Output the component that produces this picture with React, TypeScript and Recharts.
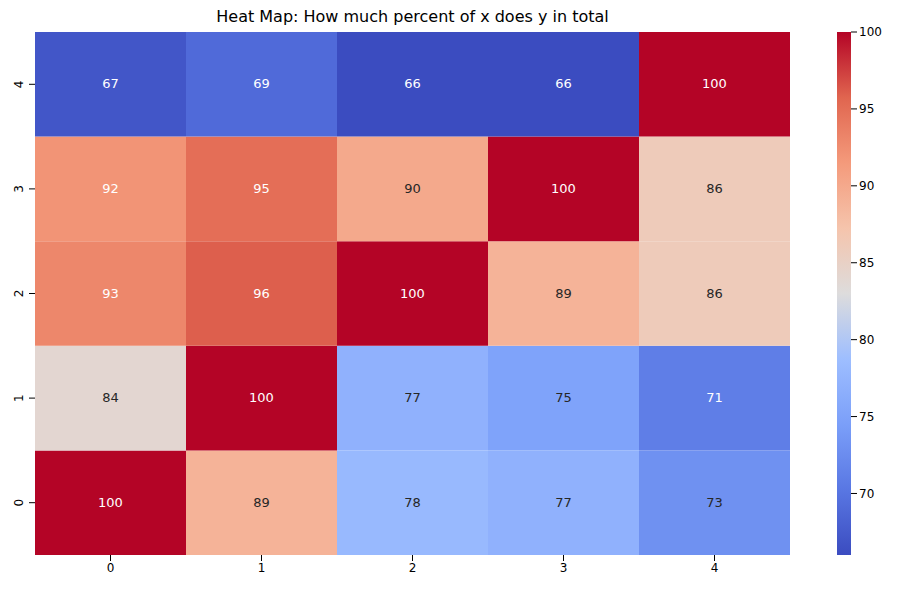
import React from 'react';
import { BarChart, Bar, XAxis, YAxis, Cell, LabelList } from 'recharts';

const xCats = ['0', '1', '2', '3', '4'];
const yCats = ['0', '1', '2', '3', '4'];
// values[row y][col x]
const row0 = [100, 89, 78, 77, 73];
const row1 = [84, 100, 77, 75, 71];
const row2 = [93, 96, 100, 89, 86];
const row3 = [92, 95, 90, 100, 86];
const row4 = [67, 69, 66, 66, 100];
const rows = [row0, row1, row2, row3, row4];
const vmin = 66;
const vmax = 100;
const cbTicks = [70, 75, 80, 85, 90, 95, 100];

const stops: [number, number[]][] = [
  [0, [59, 76, 192]],
  [0.125, [89, 119, 227]],
  [0.25, [123, 159, 249]],
  [0.375, [158, 190, 255]],
  [0.5, [221, 220, 220]],
  [0.625, [245, 196, 172]],
  [0.75, [244, 154, 123]],
  [0.875, [224, 101, 79]],
  [1, [180, 4, 38]],
];

function coolwarm(t: number) {
  t = Math.max(0, Math.min(1, t));
  for (let i = 1; i < stops.length; i++) {
    if (t <= stops[i][0]) {
      const [t0, c0] = stops[i - 1];
      const [t1, c1] = stops[i];
      const f = (t - t0) / (t1 - t0);
      const c = c0.map((v, k) => Math.round(v + (c1[k] - v) * f));
      return `rgb(${c[0]},${c[1]},${c[2]})`;
    }
  }
  return 'rgb(180,4,38)';
}

const colorOf = (v: number) => coolwarm((v - vmin) / (vmax - vmin));
const textOf = (v: number) => {
  const t = (v - vmin) / (vmax - vmin);
  return t < 0.2 || t > 0.72 ? '#ffffff' : '#262626';
};

const data = xCats.map((x, i) => {
  const d: any = { x };
  yCats.forEach((_, j) => {
    d['y' + j] = 1;
    d['v' + j] = rows[j][i];
  });
  return d;
});

const cbData = [{ name: 'cb', range: [vmin, vmax] }];
const font = 'DejaVu Sans, sans-serif';

export default function App() {
  return (
    <div style={{ position: 'relative', width: 910, height: 590, margin: -8, fontFamily: font, background: '#fff' }}>
      <div style={{ position: 'absolute', left: 35, width: 755, top: 7, textAlign: 'center', fontSize: 16, color: '#000' }}>
        Heat Map: How much percent of x does y in total
      </div>
      <div style={{ position: 'absolute', left: 0, top: 0 }}>
        <BarChart width={790} height={590} data={data} margin={{ top: 32, right: 0, bottom: 0, left: 0 }} barCategoryGap={0}>
          <XAxis dataKey="x" height={35} tickLine={{ stroke: '#000' }} axisLine={false} tick={{ fill: '#000', fontSize: 12 }} />
          <YAxis
            type="number"
            domain={[0, 5]}
            ticks={[0.5, 1.5, 2.5, 3.5, 4.5]}
            tickFormatter={(v) => String(Math.floor(v))}
            width={35}
            axisLine={false}
            tickLine={{ stroke: '#000' }}
            tick={(p: any) => (
              <text x={p.x - 4} y={p.y} transform={`rotate(-90 ${p.x - 4} ${p.y})`} textAnchor="middle" fontSize={12} fill="#000">
                {Math.floor(p.payload.value)}
              </text>
            )}
          />
          {yCats.map((_, j) => (
            <Bar key={j} dataKey={'y' + j} stackId="a" isAnimationActive={false}>
              {data.map((d, i) => (
                <Cell key={i} fill={colorOf(d['v' + j])} />
              ))}
              <LabelList
                dataKey={'v' + j}
                content={(p: any) => (
                  <text x={p.x + p.width / 2} y={p.y + p.height / 2} dy={4} textAnchor="middle" fontSize={13} fill={textOf(p.value)}>
                    {p.value}
                  </text>
                )}
              />
            </Bar>
          ))}
        </BarChart>
      </div>
      <div style={{ position: 'absolute', left: 837, top: 0 }}>
        <BarChart width={73} height={590} data={cbData} margin={{ top: 32, right: 0, bottom: 35, left: 0 }} barCategoryGap={0}>
          <defs>
            <linearGradient id="cw" x1="0" y1="1" x2="0" y2="0">
              {stops.map(([t, c]) => (
                <stop key={t} offset={t} stopColor={`rgb(${c[0]},${c[1]},${c[2]})`} />
              ))}
            </linearGradient>
          </defs>
          <XAxis dataKey="name" hide />
          <YAxis
            orientation="right"
            type="number"
            domain={[vmin, vmax]}
            ticks={cbTicks}
            width={59}
            axisLine={false}
            tickLine={{ stroke: '#000' }}
            tick={{ fill: '#000', fontSize: 12 }}
          />
          <Bar dataKey="range" fill="url(#cw)" isAnimationActive={false} />
        </BarChart>
      </div>
    </div>
  );
}
